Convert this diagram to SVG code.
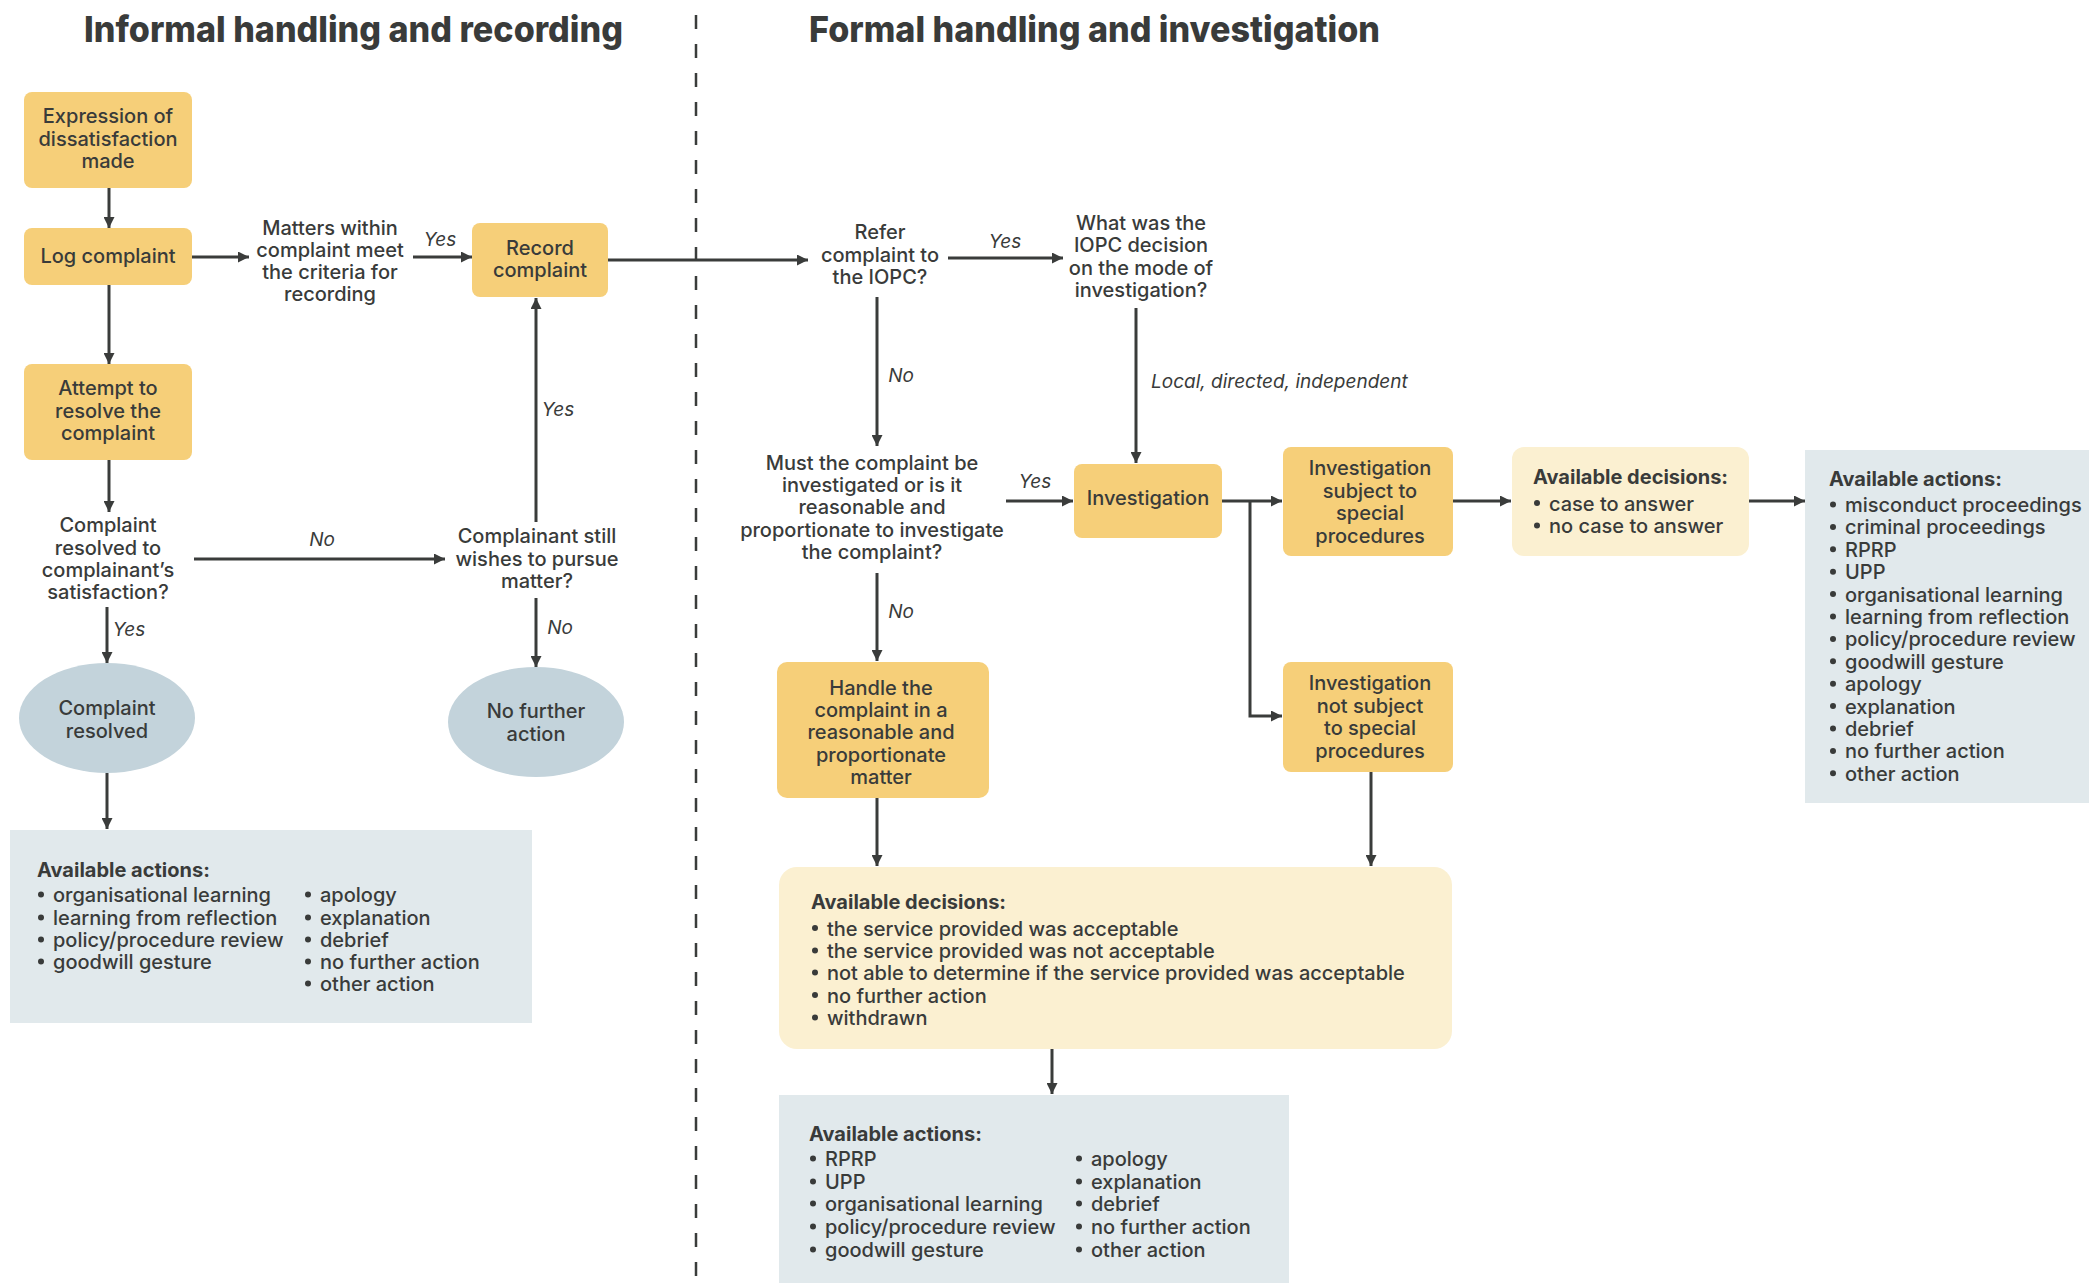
<svg xmlns="http://www.w3.org/2000/svg" width="2089" height="1283" viewBox="0 0 2089 1283">
<style>
text{font-family:Inter,"Liberation Sans",sans-serif;font-size:20px;font-weight:500;fill:#393b3a}
.c{text-anchor:middle}
.b{font-weight:700}
.i{font-style:italic;font-weight:400;font-size:19px}
.h{font-size:36px;font-weight:800}
.g{fill:#f6cf79}
.y{fill:#fbf0d1}
.a{fill:#e1e9ec}
.e{fill:#c3d3db}
.bu{fill:#393b3a}
.ln{stroke:#3a3c3b;stroke-width:3;fill:none}
</style>
<defs>
<marker id="ar" viewBox="0 0 10 10" refX="10" refY="5" markerWidth="11" markerHeight="11" markerUnits="userSpaceOnUse" orient="auto">
<path d="M0,0L10,5L0,10z" fill="#3a3c3b"/>
</marker>
</defs>
<rect width="2089" height="1283" fill="#ffffff"/>
<g id="titles">
<text class="h c" x="353.5" y="42" textLength="539" lengthAdjust="spacingAndGlyphs">Informal handling and recording</text>
<text class="h c" x="1094.5" y="42" textLength="571" lengthAdjust="spacingAndGlyphs">Formal handling and investigation</text>
<line x1="696" y1="15" x2="696" y2="1283" stroke="#3a3c3b" stroke-width="2.5" stroke-dasharray="14 15"/>
</g>
<g id="connectors">
<line class="ln" x1="109" y1="188" x2="109" y2="228" marker-end="url(#ar)"/>
<line class="ln" x1="109" y1="285" x2="109" y2="364" marker-end="url(#ar)"/>
<line class="ln" x1="192" y1="257" x2="249" y2="257" marker-end="url(#ar)"/>
<line class="ln" x1="413" y1="257" x2="472" y2="257" marker-end="url(#ar)"/>
<text class="i c" x="440" y="246">Yes</text>
<line class="ln" x1="608" y1="260" x2="808" y2="260" marker-end="url(#ar)"/>
<line class="ln" x1="948" y1="258" x2="1063" y2="258" marker-end="url(#ar)"/>
<text class="i c" x="1005" y="248">Yes</text>
<line class="ln" x1="877" y1="297" x2="877" y2="446" marker-end="url(#ar)"/>
<text class="i c" x="901" y="382">No</text>
<line class="ln" x1="1136" y1="308" x2="1136" y2="463" marker-end="url(#ar)"/>
<text class="i" x="1151" y="388">Local, directed, independent</text>
<line class="ln" x1="1006" y1="501" x2="1073" y2="501" marker-end="url(#ar)"/>
<text class="i c" x="1035" y="488">Yes</text>
<line class="ln" x1="1222" y1="501" x2="1282" y2="501" marker-end="url(#ar)"/>
<path class="ln" d="M1250,501V716H1282" marker-end="url(#ar)"/>
<line class="ln" x1="1453" y1="501" x2="1511" y2="501" marker-end="url(#ar)"/>
<line class="ln" x1="1749" y1="501" x2="1805" y2="501" marker-end="url(#ar)"/>
<line class="ln" x1="877" y1="573" x2="877" y2="661" marker-end="url(#ar)"/>
<text class="i c" x="901" y="618">No</text>
<line class="ln" x1="877" y1="798" x2="877" y2="866" marker-end="url(#ar)"/>
<line class="ln" x1="1371" y1="772" x2="1371" y2="866" marker-end="url(#ar)"/>
<line class="ln" x1="1052" y1="1049" x2="1052" y2="1094" marker-end="url(#ar)"/>
<line class="ln" x1="109" y1="460" x2="109" y2="512" marker-end="url(#ar)"/>
<line class="ln" x1="107" y1="607" x2="107" y2="663" marker-end="url(#ar)"/>
<text class="i c" x="129" y="636">Yes</text>
<line class="ln" x1="194" y1="559" x2="445" y2="559" marker-end="url(#ar)"/>
<text class="i c" x="322" y="546">No</text>
<line class="ln" x1="536" y1="522" x2="536" y2="298" marker-end="url(#ar)"/>
<text class="i c" x="558" y="416">Yes</text>
<line class="ln" x1="536" y1="598" x2="536" y2="667" marker-end="url(#ar)"/>
<text class="i c" x="560" y="634">No</text>
<line class="ln" x1="107" y1="773" x2="107" y2="829" marker-end="url(#ar)"/>
</g>
<g id="n-expression">
<rect class="g" x="24" y="92" width="168" height="96" rx="8"/>
<text class="c" x="108" y="123">Expression of</text>
<text class="c" x="108" y="145.5">dissatisfaction</text>
<text class="c" x="108" y="168">made</text>
</g>
<g id="n-log">
<rect class="g" x="24" y="228" width="168" height="57" rx="8"/>
<text class="c" x="108" y="263">Log complaint</text>
</g>
<g id="n-matters">
<text class="c" x="330" y="235">Matters within</text>
<text class="c" x="330" y="257">complaint meet</text>
<text class="c" x="330" y="279">the criteria for</text>
<text class="c" x="330" y="301">recording</text>
</g>
<g id="n-record">
<rect class="g" x="472" y="223" width="136" height="74" rx="8"/>
<text class="c" x="540" y="255">Record</text>
<text class="c" x="540" y="277">complaint</text>
</g>
<g id="n-attempt">
<rect class="g" x="24" y="364" width="168" height="96" rx="8"/>
<text class="c" x="108" y="395">Attempt to</text>
<text class="c" x="108" y="417.5">resolve the</text>
<text class="c" x="108" y="440">complaint</text>
</g>
<g id="n-resolved-q">
<text class="c" x="108" y="532">Complaint</text>
<text class="c" x="108" y="554.5">resolved to</text>
<text class="c" x="108" y="576.5">complainant’s</text>
<text class="c" x="108" y="598.5">satisfaction?</text>
</g>
<g id="n-pursue-q">
<text class="c" x="537" y="543">Complainant still</text>
<text class="c" x="537" y="565.5">wishes to pursue</text>
<text class="c" x="537" y="588">matter?</text>
</g>
<g id="n-resolved">
<ellipse class="e" cx="107" cy="718" rx="88" ry="55"/>
<text class="c" x="107" y="714.5">Complaint</text>
<text class="c" x="107" y="737.5">resolved</text>
</g>
<g id="n-nfa">
<ellipse class="e" cx="536" cy="722" rx="88" ry="55"/>
<text class="c" x="536" y="718">No further</text>
<text class="c" x="536" y="741">action</text>
</g>
<g id="n-actions-left">
<rect class="a" x="10" y="830" width="522" height="193"/>
<text class="b" x="37" y="877">Available actions:</text>
<circle class="bu" cx="41" cy="894.5" r="3"/><text x="53" y="902">organisational learning</text>
<circle class="bu" cx="41" cy="917.5" r="3"/><text x="53" y="925">learning from reflection</text>
<circle class="bu" cx="41" cy="939.5" r="3"/><text x="53" y="947">policy/procedure review</text>
<circle class="bu" cx="41" cy="961.5" r="3"/><text x="53" y="969">goodwill gesture</text>
<circle class="bu" cx="308" cy="894.5" r="3"/><text x="320" y="902">apology</text>
<circle class="bu" cx="308" cy="917.5" r="3"/><text x="320" y="925">explanation</text>
<circle class="bu" cx="308" cy="939.5" r="3"/><text x="320" y="947">debrief</text>
<circle class="bu" cx="308" cy="961.5" r="3"/><text x="320" y="969">no further action</text>
<circle class="bu" cx="308" cy="983.5" r="3"/><text x="320" y="991">other action</text>
</g>
<g id="n-refer">
<text class="c" x="880" y="239">Refer</text>
<text class="c" x="880" y="261.5">complaint to</text>
<text class="c" x="880" y="284">the IOPC?</text>
</g>
<g id="n-mode">
<text class="c" x="1141" y="230">What was the</text>
<text class="c" x="1141" y="252">IOPC decision</text>
<text class="c" x="1141" y="274.5">on the mode of</text>
<text class="c" x="1141" y="297">investigation?</text>
</g>
<g id="n-must">
<text class="c" x="872" y="470">Must the complaint be</text>
<text class="c" x="872" y="492">investigated or is it</text>
<text class="c" x="872" y="514">reasonable and</text>
<text class="c" x="872" y="537">proportionate to investigate</text>
<text class="c" x="872" y="559">the complaint?</text>
</g>
<g id="n-investigation">
<rect class="g" x="1074" y="464" width="148" height="74" rx="8"/>
<text class="c" x="1148" y="505">Investigation</text>
</g>
<g id="n-subject">
<rect class="g" x="1283" y="447" width="170" height="109" rx="8"/>
<text class="c" x="1370" y="475">Investigation</text>
<text class="c" x="1370" y="497.5">subject to</text>
<text class="c" x="1370" y="520">special</text>
<text class="c" x="1370" y="542.5">procedures</text>
</g>
<g id="n-notsubject">
<rect class="g" x="1283" y="662" width="170" height="110" rx="8"/>
<text class="c" x="1370" y="690">Investigation</text>
<text class="c" x="1370" y="712.5">not subject</text>
<text class="c" x="1370" y="735">to special</text>
<text class="c" x="1370" y="757.5">procedures</text>
</g>
<g id="n-decisions-right">
<rect class="y" x="1512" y="447" width="237" height="109" rx="12"/>
<text class="b" x="1533" y="484">Available decisions:</text>
<circle class="bu" cx="1537" cy="503" r="3"/><text x="1549" y="510.5">case to answer</text>
<circle class="bu" cx="1537" cy="525.5" r="3"/><text x="1549" y="533">no case to answer</text>
</g>
<g id="n-actions-right">
<rect class="a" x="1805" y="450" width="290" height="353"/>
<text class="b" x="1829" y="486">Available actions:</text>
<circle class="bu" cx="1833" cy="504.5" r="3"/><text x="1845" y="512">misconduct proceedings</text>
<circle class="bu" cx="1833" cy="526.9" r="3"/><text x="1845" y="534.4">criminal proceedings</text>
<circle class="bu" cx="1833" cy="549.3" r="3"/><text x="1845" y="556.8">RPRP</text>
<circle class="bu" cx="1833" cy="571.7" r="3"/><text x="1845" y="579.2">UPP</text>
<circle class="bu" cx="1833" cy="594.1" r="3"/><text x="1845" y="601.6">organisational learning</text>
<circle class="bu" cx="1833" cy="616.5" r="3"/><text x="1845" y="624">learning from reflection</text>
<circle class="bu" cx="1833" cy="638.9" r="3"/><text x="1845" y="646.4">policy/procedure review</text>
<circle class="bu" cx="1833" cy="661.3" r="3"/><text x="1845" y="668.8">goodwill gesture</text>
<circle class="bu" cx="1833" cy="683.7" r="3"/><text x="1845" y="691.2">apology</text>
<circle class="bu" cx="1833" cy="706.1" r="3"/><text x="1845" y="713.6">explanation</text>
<circle class="bu" cx="1833" cy="728.5" r="3"/><text x="1845" y="736">debrief</text>
<circle class="bu" cx="1833" cy="750.9" r="3"/><text x="1845" y="758.4">no further action</text>
<circle class="bu" cx="1833" cy="773.3" r="3"/><text x="1845" y="780.8">other action</text>
</g>
<g id="n-handle">
<rect class="g" x="777" y="662" width="212" height="136" rx="10"/>
<text class="c" x="881" y="694.5">Handle the</text>
<text class="c" x="881" y="716.5">complaint in a</text>
<text class="c" x="881" y="739">reasonable and</text>
<text class="c" x="881" y="761.5">proportionate</text>
<text class="c" x="881" y="784">matter</text>
</g>
<g id="n-decisions-bottom">
<rect class="y" x="779" y="867" width="673" height="182" rx="18"/>
<text class="b" x="811" y="909">Available decisions:</text>
<circle class="bu" cx="815" cy="928" r="3"/><text x="827" y="935.5">the service provided was acceptable</text>
<circle class="bu" cx="815" cy="950.5" r="3"/><text x="827" y="958">the service provided was not acceptable</text>
<circle class="bu" cx="815" cy="972.5" r="3"/><text x="827" y="980">not able to determine if the service provided was acceptable</text>
<circle class="bu" cx="815" cy="995" r="3"/><text x="827" y="1002.5">no further action</text>
<circle class="bu" cx="815" cy="1017.5" r="3"/><text x="827" y="1025">withdrawn</text>
</g>
<g id="n-actions-bottom">
<rect class="a" x="779" y="1095" width="510" height="188"/>
<text class="b" x="809" y="1141">Available actions:</text>
<circle class="bu" cx="813" cy="1158.5" r="3"/><text x="825" y="1166">RPRP</text>
<circle class="bu" cx="813" cy="1181.5" r="3"/><text x="825" y="1189">UPP</text>
<circle class="bu" cx="813" cy="1203.5" r="3"/><text x="825" y="1211">organisational learning</text>
<circle class="bu" cx="813" cy="1226.5" r="3"/><text x="825" y="1234">policy/procedure review</text>
<circle class="bu" cx="813" cy="1249.5" r="3"/><text x="825" y="1257">goodwill gesture</text>
<circle class="bu" cx="1079" cy="1158.5" r="3"/><text x="1091" y="1166">apology</text>
<circle class="bu" cx="1079" cy="1181.5" r="3"/><text x="1091" y="1189">explanation</text>
<circle class="bu" cx="1079" cy="1203.5" r="3"/><text x="1091" y="1211">debrief</text>
<circle class="bu" cx="1079" cy="1226.5" r="3"/><text x="1091" y="1234">no further action</text>
<circle class="bu" cx="1079" cy="1249.5" r="3"/><text x="1091" y="1257">other action</text>
</g>
</svg>
